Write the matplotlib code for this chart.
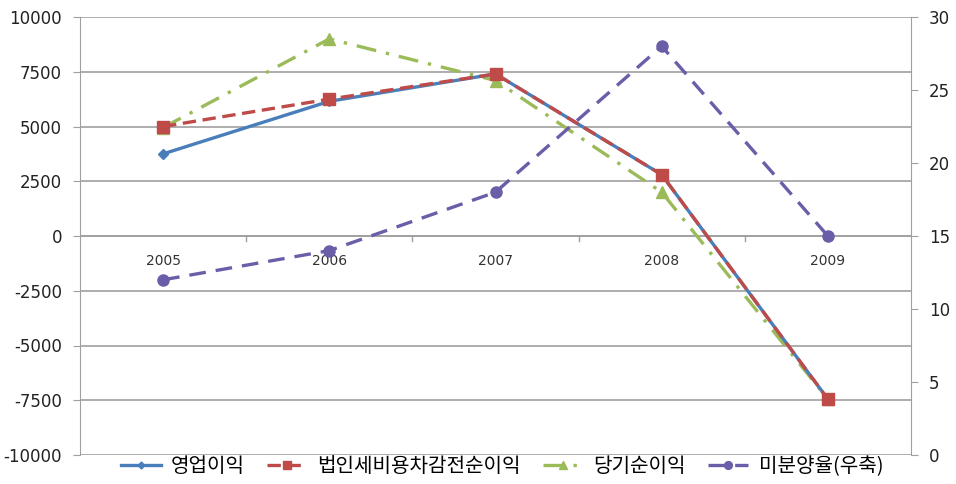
import matplotlib
matplotlib.use("Agg")
import matplotlib.pyplot as plt

plt.rcParams['font.family'] = ['Noto Sans CJK KR', 'DejaVu Sans']
plt.rcParams['axes.unicode_minus'] = False

years = ["2005", "2006", "2007", "2008", "2009"]
op_profit = [3750, 6150, 7400, 2800, -7450]
pretax_profit = [5000, 6250, 7400, 2800, -7450]
net_profit = [4950, 9000, 7100, 2000, -7450]
unsold_rate = [12.0, 14.0, 18.0, 28.0, 15.0]
labels = ["영업이익", "법인세비용차감전순이익", "당기순이익", "미분양율(우축)"]

fig = plt.figure(figsize=(9.56, 4.84), dpi=100)
ax = fig.add_axes([80/956, 29/484, 831/956, 438/484])
ax2 = ax.twinx()

x = list(range(len(years)))
l3, = ax.plot(x, net_profit, color="#9BBB59", lw=2.4, ls=(0, (6, 3, 1, 3)), marker="^", ms=8, zorder=2)
l1, = ax.plot(x, op_profit, color="#4A7EBB", lw=2.4, marker="D", ms=5, zorder=3)
l2, = ax.plot(x, pretax_profit, color="#BE4B48", lw=2.4, ls=(0, (4, 2)), marker="s", ms=8, zorder=4)
l4, = ax2.plot(x, unsold_rate, color="#6B5EA8", lw=2.4, ls=(0, (5, 3)), marker="o", ms=8, zorder=3)

ax.set_xlim(-0.5, len(years) - 0.5)
ax.set_ylim(-10000, 10000)
ax.set_yticks(range(-10000, 10001, 2500))
ax2.set_ylim(0, 30)
ax2.set_yticks(range(0, 31, 5))

ax.grid(axis='y', color="#a0a0a0", lw=1.2)
ax.set_axisbelow(True)
for s in ["top", "bottom"]:
    ax.spines[s].set_visible(False)
    ax2.spines[s].set_visible(False)
ax.spines["left"].set_color("#a0a0a0")
ax2.spines["right"].set_color("#a0a0a0")
ax2.spines["left"].set_visible(False)
ax.spines["right"].set_visible(False)

# category axis at zero
ax.axhline(0, color="#a0a0a0", lw=1.2, zorder=1)
ax.set_xticks([])
for i, yr in enumerate(years):
    ax.text(i, -800, yr, ha="center", va="top", fontsize=10, color="#333333",
            family="DejaVu Sans")
for b in [0.5, 1.5, 2.5, 3.5]:
    ax.plot([b, b], [0, -250], color="#a0a0a0", lw=1, zorder=1)

ax.tick_params(axis='y', labelsize=12, colors="#222222", length=5, color="#a0a0a0", pad=8)
ax2.tick_params(axis='y', labelsize=12, colors="#222222", length=5, color="#a0a0a0", pad=8)
for t in ax.get_yticklabels() + ax2.get_yticklabels():
    t.set_family("DejaVu Sans")

fig.legend([l1, l2, l3, l4], labels, loc="center", bbox_to_anchor=(0.525, 17/484),
           ncol=4, frameon=False, fontsize=14.5, handlelength=2.0, columnspacing=1.1,
           handletextpad=0.5, markerscale=0.7)

fig.savefig("out.png", dpi=100)
